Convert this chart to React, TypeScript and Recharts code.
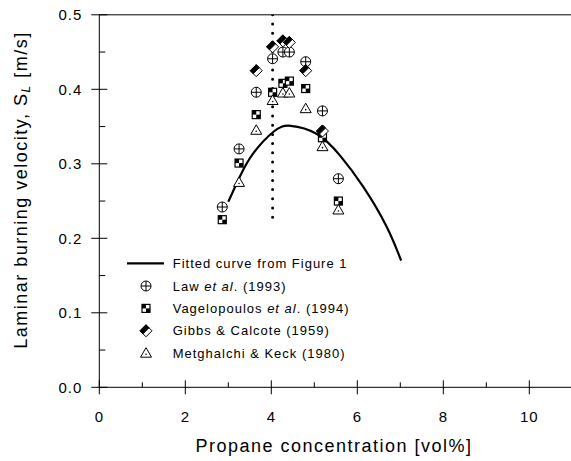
import { ComposedChart, Scatter, Line, XAxis, YAxis, Legend } from 'recharts'

// propane vol% and burning velocity (m/s)
const lawX = [2.86, 3.25, 3.65, 4.03, 4.27, 4.42, 4.8, 5.19, 5.56]
const lawY = [0.242, 0.32, 0.396, 0.441, 0.45, 0.45, 0.437, 0.371, 0.28]
const vagX = [2.86, 3.25, 3.65, 4.03, 4.27, 4.42, 4.8, 5.19, 5.56]
const vagY = [0.225, 0.301, 0.366, 0.396, 0.408, 0.411, 0.401, 0.335, 0.25]
const gibbsX = [3.65, 4.03, 4.27, 4.42, 4.8, 5.19]
const gibbsY = [0.425, 0.457, 0.465, 0.463, 0.425, 0.344]
const metX = [3.25, 3.65, 4.03, 4.27, 4.42, 4.8, 5.19, 5.56]
const metY = [0.275, 0.345, 0.385, 0.395, 0.395, 0.374, 0.323, 0.238]
const fitX = [3.0, 3.27, 3.58, 4.05, 4.45, 5.06, 5.6, 6.14, 6.68, 7.02]
const fitY = [0.249, 0.283, 0.314, 0.343, 0.351, 0.34, 0.311, 0.269, 0.216, 0.17]
const stoichX = [4.03, 4.03]
const stoichY = [0.5, 0.222]

const xTicks = [0, 1, 2, 3, 4, 5, 6, 7, 8, 9, 10]
const topTicks = [2, 4, 6, 8, 10]
const yTicks = [0, 0.05, 0.1, 0.15, 0.2, 0.25, 0.3, 0.35, 0.4, 0.45, 0.5]

const toPoints = (xs: number[], ys: number[]) => xs.map((x, i) => ({ x, y: ys[i] }))

const law = toPoints(lawX, lawY)
const vag = toPoints(vagX, vagY)
const gibbs = toPoints(gibbsX, gibbsY)
const met = toPoints(metX, metY)
const fit = toPoints(fitX, fitY)
const stoich = toPoints(stoichX, stoichY)

const FONT = '"Liberation Sans", Arial, sans-serif'
const INK = '#000'

const LawMark = ({ cx, cy }: any) => (
  <g stroke={INK} strokeWidth={1} fill="#fff">
    <circle cx={cx} cy={cy} r={5} />
    <line x1={cx - 5} x2={cx + 5} y1={cy} y2={cy} />
    <line x1={cx} x2={cx} y1={cy - 5} y2={cy + 5} />
  </g>
)

// checkered square
const VagMark = ({ cx, cy }: any) => (
  <g>
    <rect x={cx - 4} y={cy - 4} width={8} height={8} fill="#fff" stroke={INK} strokeWidth={1.2} />
    <rect x={cx - 4} y={cy - 4} width={4} height={4} fill={INK} />
    <rect x={cx} y={cy} width={4} height={4} fill={INK} />
  </g>
)

// diamond, upper-left half filled
const GibbsMark = ({ cx, cy }: any) => (
  <g stroke={INK} strokeWidth={1}>
    <polygon
      points={`${cx},${cy - 6} ${cx + 6},${cy} ${cx},${cy + 6} ${cx - 6},${cy}`}
      fill="#fff"
    />
    <polygon
      points={`${cx + 3},${cy - 3} ${cx},${cy - 6} ${cx - 6},${cy} ${cx - 3},${cy + 3}`}
      fill={INK}
    />
  </g>
)

const MetMark = ({ cx, cy }: any) => (
  <g>
    <polygon
      points={`${cx},${cy - 5.5} ${cx + 5.5},${cy + 4} ${cx - 5.5},${cy + 4}`}
      fill="#fff"
      stroke={INK}
      strokeWidth={1}
    />
    <circle cx={cx} cy={cy + 1} r={0.8} fill={INK} />
  </g>
)

const isMajorY = (v: number) => Math.abs(v * 10 - Math.round(v * 10)) < 1e-6

function LeftTick({ x, y, payload }: any) {
  const v = payload.value
  if (!isMajorY(v)) return <line x1={x} x2={x + 6} y1={y} y2={y} stroke={INK} />
  return (
    <g>
      <line x1={x - 8} x2={x + 8} y1={y} y2={y} stroke={INK} />
      <text
        x={x - 17}
        y={y}
        textAnchor="end"
        dominantBaseline="central"
        fontFamily={FONT}
        fontSize={15}
        letterSpacing={1}
        fill={INK}
      >
        {v.toFixed(1)}
      </text>
    </g>
  )
}

function BottomTick({ x, y, payload }: any) {
  const v = payload.value
  if (v % 2 !== 0) return <line x1={x} x2={x} y1={y} y2={y - 5} stroke={INK} />
  return (
    <g>
      <line x1={x} x2={x} y1={y - 7} y2={y + 7} stroke={INK} />
      <text
        x={x}
        y={y + 29}
        textAnchor="middle"
        dominantBaseline="central"
        fontFamily={FONT}
        fontSize={15}
        letterSpacing={1}
        fill={INK}
      >
        {v}
      </text>
    </g>
  )
}

function TopTick({ x, y }: any) {
  return <line x1={x} x2={x} y1={y} y2={y + 7} stroke={INK} />
}

const XTitle = () => (
  <text
    x={334}
    y={446}
    textAnchor="middle"
    dominantBaseline="central"
    fontFamily={FONT}
    fontSize={18}
    letterSpacing={1.5}
    fill={INK}
  >
    Propane concentration [vol%]
  </text>
)

const YTitle = () => (
  <text
    transform="translate(21, 190) rotate(-90)"
    textAnchor="middle"
    dominantBaseline="central"
    fontFamily={FONT}
    fontSize={18}
    letterSpacing={1.5}
    fill={INK}
  >
    Laminar burning velocity, S
    <tspan fontSize={12} fontStyle="italic" dy={5}>
      L
    </tspan>
    <tspan dy={-5}> [m/s]</tspan>
  </text>
)

const legendRows = [
  { mark: LawMark, label: ['Law ', 'et al', '. (1993)'] },
  { mark: VagMark, label: ['Vagelopoulos ', 'et al', '. (1994)'] },
  { mark: GibbsMark, label: ['Gibbs & Calcote (1959)', '', ''] },
  { mark: MetMark, label: ['Metghalchi & Keck (1980)', '', ''] },
]

function LegendBox() {
  const textProps = {
    fontFamily: FONT,
    fontSize: 13,
    letterSpacing: 1,
    fill: INK,
    dominantBaseline: 'central' as const,
  }
  return (
    <svg width={290} height={115}>
      <line x1={27} x2={64} y1={13.3} y2={13.3} stroke={INK} strokeWidth={2.2} />
      <text x={72.7} y={13.3} {...textProps}>
        Fitted curve from Figure 1
      </text>
      {legendRows.map((row, i) => {
        const cy = 36 + i * 22.4
        const Mark = row.mark
        return (
          <g key={i}>
            <Mark cx={46} cy={cy} />
            <text x={72.7} y={cy} {...textProps}>
              {row.label[0]}
              {row.label[1] && <tspan fontStyle="italic">{row.label[1]}</tspan>}
              {row.label[2]}
            </text>
          </g>
        )
      })}
    </svg>
  )
}

export default function App() {
  return (
    <div style={{ position: 'absolute', left: 0, top: 0, width: 571, height: 461, overflow: 'hidden', background: '#fff' }}>
      <ComposedChart
        width={573}
        height={461}
        margin={{ top: 13.8, right: 0.7, bottom: 13.7, left: 0 }}
      >
        <XAxis
          dataKey="x"
          type="number"
          domain={[0, 11]}
          ticks={xTicks}
          interval={0}
          tickSize={0}
          tickMargin={0}
          tick={<BottomTick />}
          axisLine={{ stroke: INK }}
          height={60}
          allowDataOverflow
          label={<XTitle />}
        />
        <XAxis
          xAxisId="top"
          orientation="top"
          type="number"
          domain={[0, 11]}
          ticks={topTicks}
          interval={0}
          tickSize={0}
          tickMargin={0}
          tick={<TopTick />}
          axisLine={{ stroke: INK }}
          height={1}
          allowDataOverflow
        />
        <YAxis
          type="number"
          domain={[0, 0.5]}
          ticks={yTicks}
          interval={0}
          tickSize={0}
          tickMargin={0}
          tick={<LeftTick />}
          axisLine={{ stroke: INK }}
          width={99.3}
          allowDataOverflow
          label={<YTitle />}
        />
        <Legend
          layout="vertical"
          align="center"
          verticalAlign="middle"
          content={<LegendBox />}
          wrapperStyle={{ left: 100, top: 250, width: 290, height: 115 }}
        />
        <Line
          data={stoich}
          dataKey="y"
          type="linear"
          stroke={INK}
          strokeWidth={3}
          strokeDasharray="0 9.2"
          strokeLinecap="round"
          dot={false}
          isAnimationActive={false}
          legendType="none"
        />
        <Line
          data={fit}
          dataKey="y"
          type="natural"
          stroke={INK}
          strokeWidth={2.2}
          dot={false}
          isAnimationActive={false}
        />
        <Scatter data={law} dataKey="y" shape={<LawMark />} isAnimationActive={false} />
        <Scatter data={vag} dataKey="y" shape={<VagMark />} isAnimationActive={false} />
        <Scatter data={met} dataKey="y" shape={<MetMark />} isAnimationActive={false} />
        <Scatter data={gibbs} dataKey="y" shape={<GibbsMark />} isAnimationActive={false} />
      </ComposedChart>
    </div>
  )
}
